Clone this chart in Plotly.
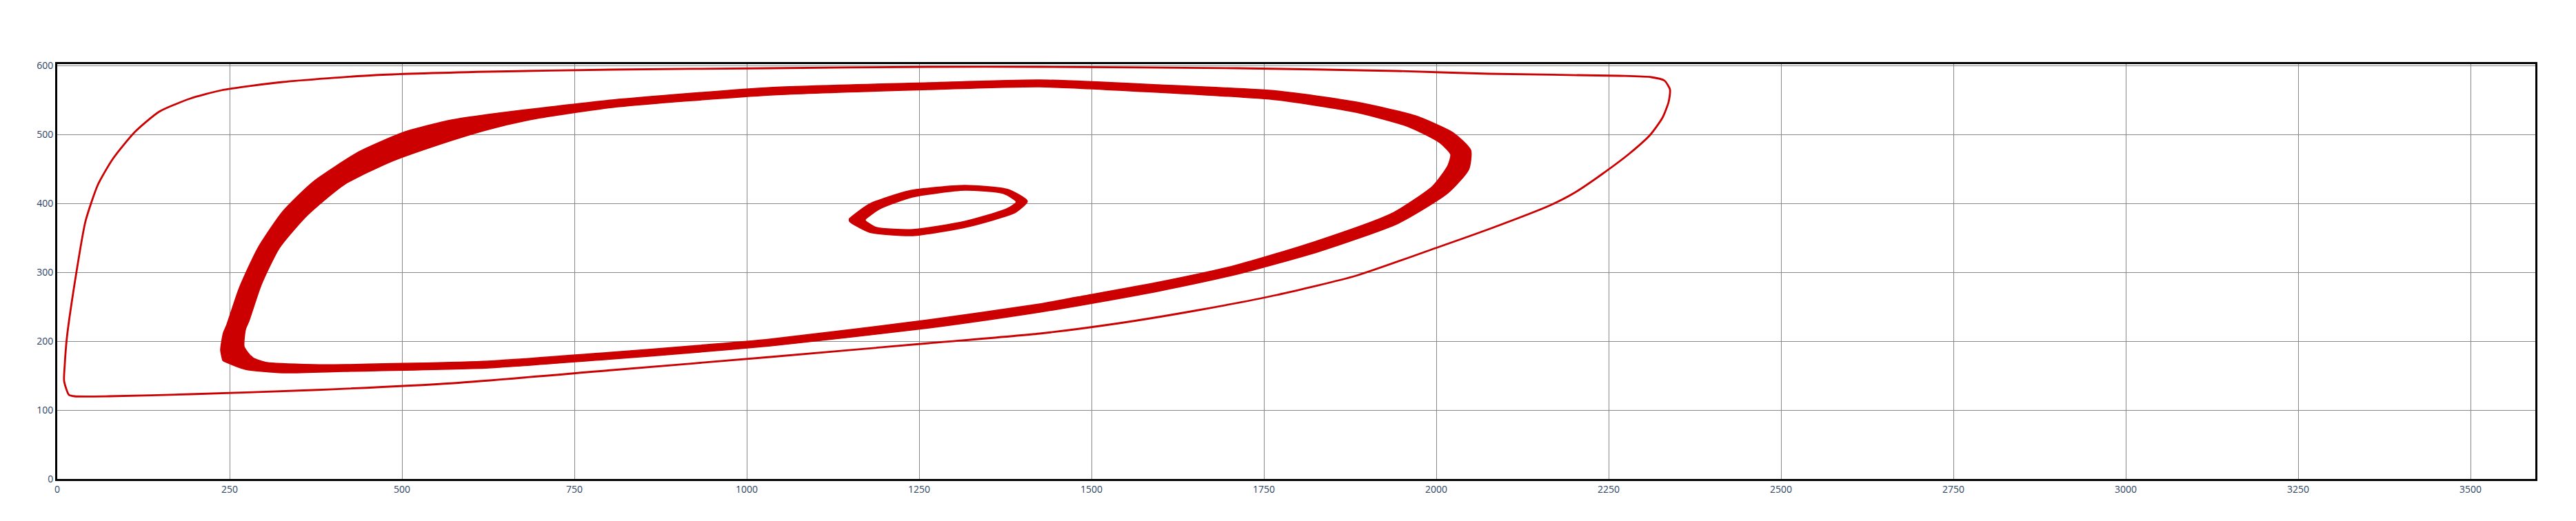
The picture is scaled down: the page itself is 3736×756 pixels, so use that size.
import plotly.graph_objects as go

RED = "#cc0000"
X_MAX = 3594
Y_MAX = 602

v1_outer_x = [1149, 1178, 1235, 1316, 1379, 1407, 1390, 1321, 1241, 1178, 1149, 1149]
v1_outer_y = [378, 399, 418, 426, 420, 403, 387, 366, 353, 358, 374, 378]
v1_inner_x = [1172, 1193, 1240, 1316, 1373, 1391, 1377, 1317, 1241, 1188, 1172, 1172]
v1_inner_y = [377, 392, 409, 419, 414, 402, 392, 374, 362, 365, 375, 377]
v4_outer_x = [240, 237, 241, 246, 264, 291, 327, 371, 438, 505, 572, 625, 690, 805, 1034, 1264, 1425, 1597, 1769, 1884, 1970, 2025, 2050, 2047, 2017, 1945, 1830, 1715, 1600, 1485, 1425, 1264, 1034, 919, 805, 625, 416, 327, 273, 246, 240]
v4_outer_y = [172, 187, 212, 224, 277, 335, 388, 431, 475, 504, 521, 529, 537, 550, 568, 575, 579, 572, 563, 547, 527, 502, 477, 449, 415, 371, 330, 298, 273, 252, 242, 219, 193, 183, 174, 161, 156, 154, 159, 169, 172]
v4_inner_x = [280, 271, 273, 278, 296, 322, 363, 416, 483, 550, 625, 690, 805, 1034, 1264, 1425, 1597, 1769, 1884, 1960, 2005, 2021, 2017, 1995, 1935, 1823, 1709, 1594, 1479, 1425, 1264, 1034, 919, 805, 625, 416, 371, 304, 285, 280]
v4_inner_y = [179, 192, 217, 229, 282, 335, 383, 427, 460, 484, 507, 522, 539, 557, 565, 569, 561, 550, 532, 511, 488, 471, 455, 425, 385, 344, 310, 285, 264, 254, 231, 203, 193, 184, 171, 166, 166, 169, 175, 179]
o1_x = [17, 10, 11, 14, 28, 41, 59, 81, 113, 148, 193, 238, 327, 461, 625, 805, 1034, 1264, 1425, 1712, 1942, 2075, 2266, 2312, 2331, 2339, 2337, 2328, 2310, 2280, 2240, 2200, 2165, 2075, 1999, 1884, 1769, 1655, 1540, 1425, 1264, 1034, 805, 575, 371, 193, 75, 25, 17]
o1_y = [122, 142, 167, 205, 301, 374, 427, 465, 504, 533, 552, 564, 576, 586, 591, 594, 596, 598, 598, 596, 592, 588, 585, 583, 578, 565, 547, 524, 499, 472, 442, 415, 397, 362, 335, 295, 267, 245, 226, 211, 197, 177, 158, 139, 129, 123, 120, 120, 122]

fig = go.Figure()
fig.add_trace(go.Scatter(x=v1_outer_x + v1_inner_x[::-1], y=v1_outer_y + v1_inner_y[::-1], mode="lines",
                         fill="toself", fillcolor=RED, line=dict(color=RED, width=1.5, shape="spline", smoothing=0.6)))
fig.add_trace(go.Scatter(x=v4_outer_x + v4_inner_x[::-1], y=v4_outer_y + v4_inner_y[::-1], mode="lines",
                         fill="toself", fillcolor=RED, line=dict(color=RED, width=1.5, shape="spline", smoothing=0.6)))
fig.add_trace(go.Scatter(x=o1_x, y=o1_y, mode="lines", line=dict(color=RED, width=2.8, shape="spline", smoothing=0.6)))
fig.update_xaxes(range=[0, X_MAX], showline=True, mirror=True, linecolor="black", linewidth=3,
                 showgrid=True, gridcolor="#888", dtick=250, zeroline=False, tickfont=dict(size=14))
fig.update_yaxes(range=[0, Y_MAX], showline=True, mirror=True, linecolor="black", linewidth=3,
                 showgrid=True, gridcolor="#888", dtick=100, zeroline=False, tickfont=dict(size=14))
fig.update_layout(width=3736, height=756, plot_bgcolor="white", paper_bgcolor="white",
                  margin=dict(l=75, r=67, t=85, b=69), showlegend=False)
fig.write_html("out.html")
